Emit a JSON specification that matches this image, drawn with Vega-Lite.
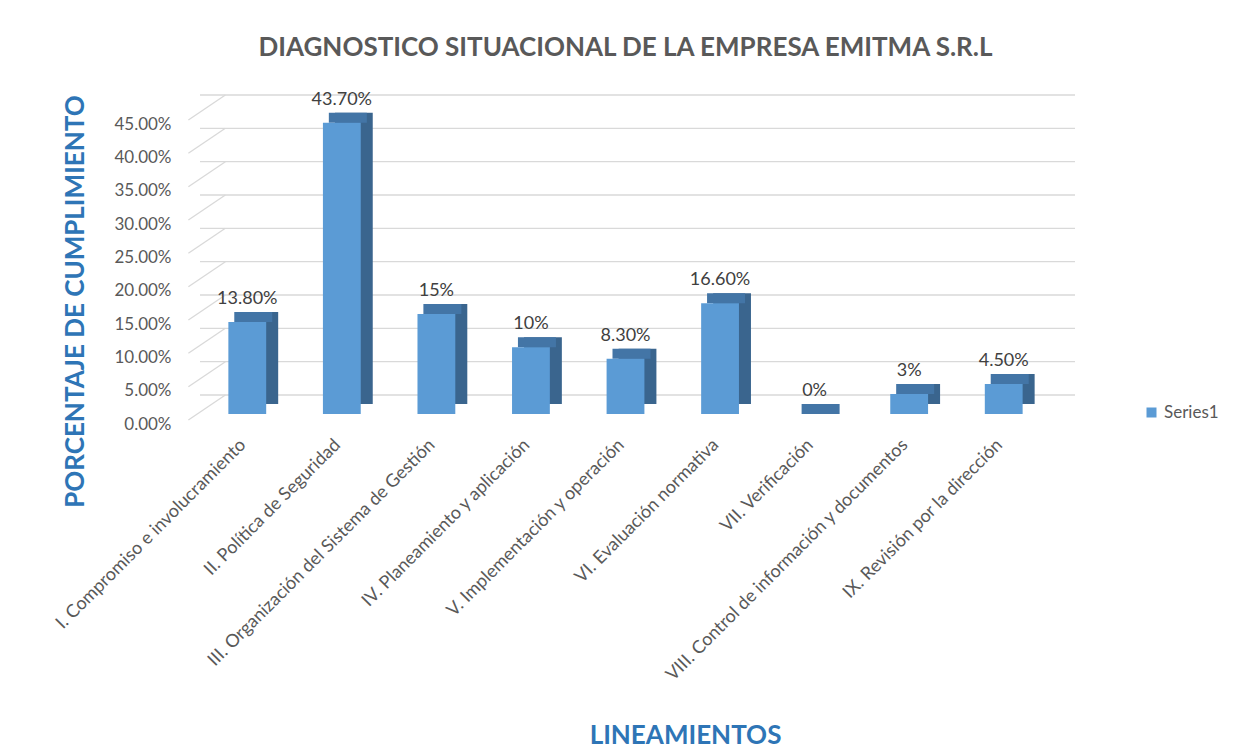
{
  "$schema": "https://vega.github.io/schema/vega-lite/v6.json",
  "width": 851,
  "height": 300,
  "autosize": "none",
  "padding": {"left": 200, "top": 114, "right": 189, "bottom": 342},
  "background": "white",
  "config": {
    "view": {"stroke": null},
    "font": "Lato",
    "axis": {"labelFont": "Lato", "titleFont": "Lato"},
    "axisY": {"labelOverlap": false}
  },
  "title": {
    "text": "DIAGNOSTICO SITUACIONAL DE LA EMPRESA EMITMA S.R.L",
    "font": "Lato",
    "fontSize": 26,
    "fontWeight": "bold",
    "color": "#595959",
    "anchor": "middle",
    "offset": 30
  },
  "datasets": {
    "bars": [
      {"lineamiento": "I. Compromiso e involucramiento", "pct": 0.138, "label": "13.80%"},
      {"lineamiento": "II. Política de Seguridad", "pct": 0.437, "label": "43.70%"},
      {"lineamiento": "III. Organización del Sistema de Gestión", "pct": 0.15, "label": "15%"},
      {"lineamiento": "IV. Planeamiento y aplicación", "pct": 0.10, "label": "10%"},
      {"lineamiento": "V. Implementación y operación", "pct": 0.083, "label": "8.30%"},
      {"lineamiento": "VI.  Evaluación normativa", "pct": 0.166, "label": "16.60%"},
      {"lineamiento": "VII. Verificación", "pct": 0.0, "label": "0%"},
      {"lineamiento": "VIII. Control de información y documentos", "pct": 0.03, "label": "3%"},
      {"lineamiento": "IX.  Revisión por la dirección", "pct": 0.045, "label": "4.50%"}
    ],
    "grid": [
      {"pct": 0}, {"pct": 0.05}, {"pct": 0.1}, {"pct": 0.15}, {"pct": 0.2},
      {"pct": 0.25}, {"pct": 0.3}, {"pct": 0.35}, {"pct": 0.4}, {"pct": 0.45}
    ]
  },
  "encoding": {
    "y": {
      "field": "pct",
      "type": "quantitative",
      "scale": {"domain": [0, 0.45], "nice": false, "zero": true},
      "axis": {
        "title": "PORCENTAJE DE CUMPLIMIENTO",
        "titleFontSize": 26,
        "titleFontWeight": "bold",
        "titleColor": "#2E75B6",
        "titleAngle": -90,
        "titleAlign": "center",
        "titleBaseline": "middle",
        "titleX": -125,
        "titleY": 187,
        "values": [0, 0.05, 0.1, 0.15, 0.2, 0.25, 0.3, 0.35, 0.4, 0.45],
        "format": ".2%",
        "labelFontSize": 17,
        "labelColor": "#595959",
        "labelPadding": 29,
        "labelOffset": 10,
        "labelOverlap": false,
        "ticks": false,
        "domain": false,
        "grid": false
      }
    }
  },
  "layer": [
    {
      "data": {"name": "grid"},
      "mark": {"type": "rule", "color": "#d9d9d9", "strokeWidth": 1.3, "xOffset": 24, "x2Offset": 24, "yOffset": -19}
    },
    {
      "data": {"name": "grid"},
      "mark": {"type": "rule", "color": "#d9d9d9", "strokeWidth": 1.3, "xOffset": -40, "x2Offset": -3, "yOffset": 6, "y2Offset": -19},
      "encoding": {
        "x": {"datum": "I. Compromiso e involucramiento", "type": "nominal", "bandPosition": 0},
        "x2": {"datum": "I. Compromiso e involucramiento", "bandPosition": 0},
        "y2": {"field": "pct"}
      }
    },
    {
      "data": {"name": "bars"},
      "encoding": {
        "x": {
          "field": "lineamiento",
          "type": "nominal",
          "sort": null,
          "scale": {"paddingInner": 0.6, "paddingOuter": 0.3},
          "axis": {
            "title": "LINEAMIENTOS",
            "titleFontSize": 26,
            "titleFontWeight": "bold",
            "titleColor": "#2E75B6",
            "titleAlign": "center",
            "titleBaseline": "middle",
            "titleX": 485,
            "titleY": 321,
            "labelAngle": -45,
            "labelFontSize": 18,
            "labelColor": "#595959",
            "labelPadding": 28,
            "labelOffset": -4,
            "labelLimit": 400,
            "ticks": false,
            "domain": false,
            "grid": false
          }
        }
      },
      "layer": [
        {
          "mark": {"type": "bar", "color": "#3A658E", "xOffset": 12, "yOffset": -10}
        },
        {
          "mark": {"type": "tick", "color": "#4375A6", "size": 38, "thickness": 10, "xOffset": 6, "yOffset": -5, "opacity": 1}
        },
        {
          "mark": {"type": "bar"},
          "encoding": {
            "color": {
              "datum": "Series1",
              "type": "nominal",
              "scale": {"range": ["#5B9BD5"]},
              "legend": {
                "title": null,
                "orient": "none",
                "legendX": 943,
                "legendY": 290,
                "symbolType": "square",
                "symbolSize": 100,
                "symbolStrokeWidth": 0,
                "labelFontSize": 17,
                "labelColor": "#595959",
                "labelFont": "Lato"
              }
            }
          }
        },
        {
          "mark": {"type": "text", "baseline": "bottom", "align": "center", "dy": -14, "fontSize": 18, "color": "#404040", "font": "Lato"},
          "encoding": {"text": {"field": "label"}}
        }
      ]
    }
  ]
}
